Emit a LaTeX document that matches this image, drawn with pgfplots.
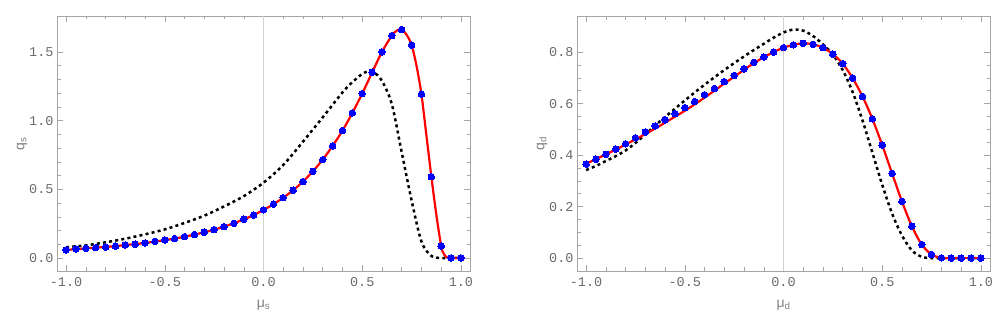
\documentclass[border=0pt]{standalone}
\usepackage{fontspec}
\setmainfont{Liberation Sans}
\newfontfamily\tickfont{Liberation Mono}
\usepackage{pgfplots}
\pgfplotsset{compat=1.18}

\definecolor{framegray}{gray}{0.65}
\definecolor{ticklab}{gray}{0.42}
\definecolor{labgray}{gray}{0.5}

% Mathematica-like frame
\pgfplotsset{mma/.style={
    scale only axis, width=413pt, height=255pt,
    axis line style={framegray, line width=0.6pt},
    tick style={framegray, line width=0.5pt},
    tick align=inside,
    major tick length=6pt, minor tick length=3.5pt,
    xmin=-1.046, xmax=1.046,
    xtick={-1,-0.5,0,0.5,1}, minor x tick num=4,
    extra x ticks={0}, extra x tick labels={},
    extra x tick style={grid=major, major grid style={black!18, line width=0.6pt},
        major tick length=0pt},
    tick label style={font=\tickfont\fontsize{13.5}{13.5}\selectfont, text=ticklab},
    xticklabel style={yshift=-3pt},
    /pgf/number format/fixed, /pgf/number format/fixed zerofill,
    /pgf/number format/precision=1, /pgf/number format/assume math mode=true,
    every axis x label/.style={at={(axis description cs:0.5,0)}, anchor=center,
        yshift=-34pt, font=\fontsize{14}{14}\selectfont, text=labgray},
    every axis y label/.style={at={(axis description cs:0,0.5)}, anchor=center,
        xshift=-35pt, rotate=90, font=\fontsize{14}{14}\selectfont, text=labgray},
}}
\pgfplotsset{
  fit/.style={red, line width=2.2pt, smooth, no marks},
  pts/.style={only marks, mark=*, mark size=3.3pt, mark options={draw=blue, fill=blue, line width=0pt}},
  approx/.style={black, line width=2.5pt, smooth, no marks, dash pattern=on 3pt off 3.2pt},
}

\begin{document}
\begin{tikzpicture}
\begin{axis}[mma,
    ymin=-0.095, ymax=1.762,
    ytick={0,0.5,1,1.5}, minor y tick num=4,
    xlabel={μ\textsubscript{s}}, ylabel={q\textsubscript{s}}]
\addplot[approx] coordinates {
 (-1,0.078) (-0.9,0.092) (-0.8,0.114) (-0.7,0.140) (-0.6,0.172) (-0.5,0.208)
 (-0.4,0.255) (-0.3,0.308) (-0.2,0.375) (-0.1,0.450) (0,0.548) (0.1,0.677)
 (0.2,0.847) (0.3,1.024) (0.4,1.205) (0.45,1.28) (0.5,1.34) (0.53,1.358)
 (0.56,1.35) (0.6,1.29) (0.65,1.12) (0.7,0.77) (0.75,0.42) (0.8,0.12)
 (0.85,0.015) (0.9,0) (0.95,0) (1,0)};
\addplot[fit] coordinates {
 (-1,0.058) (-0.95,0.064) (-0.9,0.070) (-0.85,0.075) (-0.8,0.080) (-0.75,0.086)
 (-0.7,0.094) (-0.65,0.101) (-0.6,0.109) (-0.55,0.119) (-0.5,0.130) (-0.45,0.141)
 (-0.4,0.155) (-0.35,0.170) (-0.3,0.187) (-0.25,0.206) (-0.2,0.228) (-0.15,0.253)
 (-0.1,0.281) (-0.05,0.312) (0,0.350) (0.05,0.391) (0.1,0.439) (0.15,0.493)
 (0.2,0.556) (0.25,0.631) (0.3,0.716) (0.35,0.816) (0.4,0.927) (0.45,1.056)
 (0.5,1.197) (0.55,1.350) (0.6,1.500) (0.65,1.619) (0.675,1.655) (0.7,1.664)
 (0.725,1.625) (0.75,1.551) (0.775,1.400) (0.8,1.192) (0.825,0.895) (0.85,0.595)
 (0.875,0.320) (0.9,0.087) (0.915,0.025) (0.93,0.004) (0.95,0) (1,0)};
\addplot[pts] coordinates {
 (-1,0.058) (-0.95,0.066) (-0.9,0.070) (-0.85,0.075) (-0.8,0.080) (-0.75,0.085)
 (-0.7,0.095) (-0.65,0.100) (-0.6,0.109) (-0.55,0.121) (-0.5,0.131) (-0.45,0.141)
 (-0.4,0.155) (-0.35,0.170) (-0.3,0.187) (-0.25,0.206) (-0.2,0.228) (-0.15,0.252)
 (-0.1,0.282) (-0.05,0.311) (0,0.350) (0.05,0.391) (0.1,0.439) (0.15,0.493)
 (0.2,0.556) (0.25,0.631) (0.3,0.716) (0.35,0.816) (0.4,0.927) (0.45,1.056)
 (0.5,1.197) (0.55,1.352) (0.6,1.500) (0.65,1.619) (0.7,1.663) (0.75,1.551)
 (0.8,1.192) (0.85,0.592) (0.9,0.087) (0.95,0) (1,0)};
\end{axis}

\begin{axis}[mma, xshift=520pt,
    ymin=-0.05, ymax=0.94,
    ytick={0,0.2,0.4,0.6,0.8}, minor y tick num=3,
    xlabel={μ\textsubscript{d}}, ylabel={q\textsubscript{d}}]
\addplot[approx] coordinates {
 (-1,0.342) (-0.95,0.358) (-0.9,0.377) (-0.85,0.396) (-0.8,0.418) (-0.75,0.447)
 (-0.7,0.480) (-0.65,0.515) (-0.6,0.548) (-0.55,0.580) (-0.5,0.612) (-0.45,0.643)
 (-0.4,0.673) (-0.35,0.702) (-0.3,0.730) (-0.25,0.757) (-0.2,0.783) (-0.15,0.808)
 (-0.1,0.832) (-0.05,0.856) (0,0.876) (0.05,0.887) (0.1,0.883) (0.15,0.862)
 (0.2,0.830) (0.25,0.790) (0.3,0.730) (0.35,0.645) (0.4,0.535) (0.45,0.410)
 (0.5,0.285) (0.55,0.173) (0.6,0.088) (0.65,0.030) (0.7,0.005) (0.75,0)
 (0.8,0) (0.9,0) (1,0)};
\addplot[fit] coordinates {
 (-1,0.367) (-0.95,0.384) (-0.9,0.403) (-0.85,0.421) (-0.8,0.441) (-0.75,0.461)
 (-0.7,0.482) (-0.65,0.503) (-0.6,0.526) (-0.55,0.549) (-0.5,0.572) (-0.45,0.597)
 (-0.4,0.623) (-0.35,0.650) (-0.3,0.678) (-0.25,0.704) (-0.2,0.731) (-0.15,0.757)
 (-0.1,0.780) (-0.05,0.800) (0,0.817) (0.05,0.828) (0.1,0.834) (0.15,0.830)
 (0.2,0.817) (0.25,0.792) (0.3,0.755) (0.35,0.699) (0.4,0.628) (0.45,0.541)
 (0.5,0.439) (0.55,0.329) (0.6,0.220) (0.65,0.124) (0.7,0.053) (0.75,0.014)
 (0.8,0.001) (0.85,0) (0.9,0) (0.95,0) (1,0)};
\addplot[pts] coordinates {
 (-1,0.365) (-0.95,0.384) (-0.9,0.403) (-0.85,0.423) (-0.8,0.444) (-0.75,0.467)
 (-0.7,0.489) (-0.65,0.513) (-0.6,0.537) (-0.55,0.561) (-0.5,0.584) (-0.45,0.608)
 (-0.4,0.634) (-0.35,0.659) (-0.3,0.685) (-0.25,0.709) (-0.2,0.735) (-0.15,0.760)
 (-0.1,0.781) (-0.05,0.800) (0,0.817) (0.05,0.828) (0.1,0.834) (0.15,0.830)
 (0.2,0.817) (0.25,0.792) (0.3,0.755) (0.35,0.699) (0.4,0.628) (0.45,0.541)
 (0.5,0.439) (0.55,0.329) (0.6,0.220) (0.65,0.124) (0.7,0.053) (0.75,0.014)
 (0.8,0.001) (0.85,0) (0.9,0) (0.95,0) (1,0)};
\end{axis}
\pgfresetboundingbox
\path[use as bounding box] (-57pt,-60pt) rectangle (951pt,271pt);
\end{tikzpicture}
\end{document}
